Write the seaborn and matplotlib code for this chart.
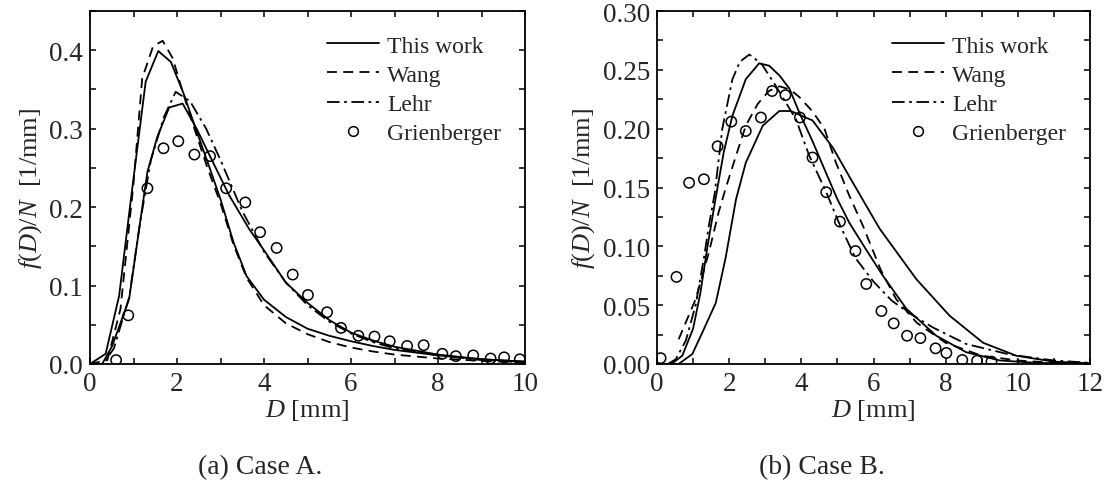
import numpy as np
import pandas as pd
import matplotlib
matplotlib.use("Agg")
import matplotlib.pyplot as plt
from matplotlib.lines import Line2D
import seaborn as sns

# ---------------- data: Case A ----------------
A_tw1_D = [0.0, 0.36, 0.67, 0.94, 1.28, 1.57, 1.86, 2.15, 2.43, 2.75, 3.0, 3.3, 3.6, 4.0, 4.5, 5.0, 5.5, 6.0, 6.5, 7.0, 8.0, 9.0, 10.0]
A_tw1 = [0.0, 0.013, 0.087, 0.21, 0.36, 0.399, 0.385, 0.345, 0.30, 0.25, 0.21, 0.155, 0.112, 0.082, 0.060, 0.045, 0.036, 0.029, 0.023, 0.018, 0.011, 0.006, 0.003]

A_tw2_D = [0.0, 0.28, 0.51, 0.9, 1.13, 1.32, 1.55, 1.82, 2.13, 2.45, 2.82, 3.2, 3.66, 4.0, 4.5, 5.0, 5.5, 6.0, 6.5, 7.0, 8.0, 9.0, 10.0]
A_tw2 = [0.0, 0.0, 0.023, 0.083, 0.172, 0.245, 0.29, 0.327, 0.332, 0.30, 0.258, 0.215, 0.172, 0.145, 0.104, 0.078, 0.056, 0.040, 0.030, 0.022, 0.012, 0.006, 0.003]

A_wang_D = [0.0, 0.4, 0.7, 1.0, 1.2, 1.45, 1.67, 1.9, 2.13, 2.4, 2.7, 3.0, 3.3, 3.6, 4.0, 4.5, 5.0, 5.5, 6.0, 6.5, 7.0, 8.0, 9.0, 10.0]
A_wang = [0.0, 0.005, 0.07, 0.23, 0.364, 0.405, 0.412, 0.39, 0.347, 0.30, 0.25, 0.205, 0.152, 0.11, 0.075, 0.052, 0.038, 0.028, 0.021, 0.016, 0.012, 0.007, 0.004, 0.002]

A_lehr_D = [0.0, 0.3, 0.55, 0.9, 1.15, 1.4, 1.7, 1.97, 2.3, 2.67, 3.0, 3.5, 4.0, 4.5, 5.0, 5.5, 6.0, 6.5, 7.0, 8.0, 9.0, 10.0]
A_lehr = [0.0, 0.0, 0.02, 0.085, 0.18, 0.26, 0.315, 0.347, 0.335, 0.30, 0.26, 0.195, 0.143, 0.104, 0.075, 0.054, 0.039, 0.028, 0.020, 0.011, 0.005, 0.002]

A_exp_D = [0.6, 0.88, 1.32, 1.69, 2.03, 2.40, 2.76, 3.13, 3.57, 3.91, 4.29, 4.66, 5.01, 5.45, 5.77, 6.17, 6.54, 6.89, 7.29, 7.67, 8.10, 8.41, 8.81, 9.21, 9.52, 9.88]
A_exp = [0.005, 0.062, 0.224, 0.275, 0.284, 0.267, 0.265, 0.224, 0.206, 0.168, 0.148, 0.114, 0.088, 0.066, 0.046, 0.036, 0.035, 0.029, 0.023, 0.024, 0.013, 0.010, 0.011, 0.007, 0.0085, 0.006]

# ---------------- data: Case B ----------------
B_tw1_D = [0.0, 0.4, 0.7, 1.0, 1.2, 1.4, 1.62, 1.85, 2.09, 2.46, 2.83, 3.11, 3.4, 3.67, 3.94, 4.3, 4.69, 5.0, 5.33, 5.8, 6.26, 6.91, 7.74, 8.57, 9.5, 10.5, 12.0]
B_tw1 = [0.0, 0.0, 0.007, 0.03, 0.06, 0.10, 0.14, 0.18, 0.211, 0.242, 0.2555, 0.2535, 0.245, 0.234, 0.214, 0.19, 0.162, 0.14, 0.12, 0.097, 0.075, 0.047, 0.024, 0.010, 0.003, 0.001, 0.0]

B_tw2_D = [0.0, 0.6, 0.98, 1.26, 1.63, 1.9, 2.19, 2.46, 2.93, 3.39, 3.71, 4.04, 4.31, 4.87, 5.43, 6.17, 7.19, 8.11, 9.04, 9.96, 11.0, 12.0]
B_tw2 = [0.0, 0.0, 0.0085, 0.027, 0.052, 0.09, 0.14, 0.171, 0.2025, 0.215, 0.215, 0.2105, 0.207, 0.184, 0.154, 0.115, 0.072, 0.041, 0.018, 0.007, 0.002, 0.0005]

B_wang_D = [0.6, 1.07, 1.44, 1.7, 1.91, 2.19, 2.46, 2.79, 3.1, 3.4, 3.7, 3.94, 4.3, 4.64, 4.96, 5.33, 5.7, 6.2, 6.63, 7.2, 8.0, 9.0, 10.0, 11.0, 12.0]
B_wang = [0.021, 0.055, 0.095, 0.128, 0.15, 0.177, 0.2025, 0.221, 0.232, 0.236, 0.233, 0.227, 0.215, 0.20, 0.171, 0.143, 0.118, 0.08, 0.055, 0.035, 0.018, 0.007, 0.003, 0.001, 0.0005]

B_lehr_D = [0.3, 0.52, 0.8, 1.07, 1.3, 1.44, 1.6, 1.81, 2.09, 2.3, 2.56, 2.9, 3.3, 3.85, 4.22, 4.69, 5.07, 5.5, 6.0, 6.5, 7.0, 7.65, 8.57, 9.78, 11.0, 12.0]
B_lehr = [0.0, 0.004, 0.02, 0.05, 0.09, 0.118, 0.145, 0.20, 0.242, 0.257, 0.263, 0.255, 0.236, 0.208, 0.177, 0.146, 0.118, 0.09, 0.07, 0.054, 0.043, 0.031, 0.017, 0.008, 0.003, 0.001]

B_exp_D = [0.10, 0.54, 0.89, 1.30, 1.68, 2.06, 2.46, 2.88, 3.19, 3.56, 3.96, 4.31, 4.69, 5.07, 5.50, 5.80, 6.22, 6.56, 6.93, 7.30, 7.72, 8.02, 8.46, 8.87, 9.27]
B_exp = [0.005, 0.074, 0.154, 0.157, 0.185, 0.206, 0.198, 0.2095, 0.232, 0.2285, 0.2095, 0.1755, 0.146, 0.121, 0.096, 0.068, 0.045, 0.0345, 0.024, 0.022, 0.0133, 0.0094, 0.0034, 0.0028, 0.002]

legend_labels = ["This work", "Wang", "Lehr", "Grienberger"]
x_ticks_A = [0, 2, 4, 6, 8, 10]
y_ticks_A = [0.0, 0.1, 0.2, 0.3, 0.4]
x_ticks_B = [0, 2, 4, 6, 8, 10, 12]
y_ticks_B = [0.00, 0.05, 0.10, 0.15, 0.20, 0.25, 0.30]
captions = ["(a) Case A.", "(b) Case B."]

# ---------------- style ----------------
sns.set_theme(style="ticks")
plt.rcParams["font.family"] = ["Liberation Serif", "DejaVu Serif"]
plt.rcParams["mathtext.fontset"] = "custom"
plt.rcParams["mathtext.rm"] = "Liberation Serif"
plt.rcParams["mathtext.it"] = "Liberation Serif:italic"

FS_LEG = 17
FS_TICK = 19.5
FS_LAB = 19
LW = 1.3
DASH = (0, (5.5, 3.5))
DASHDOT = (0, (7, 2.5, 1.5, 2.5))

fig = plt.figure(figsize=(11.13, 4.89), dpi=100)
W, H = 1113.0, 489.0
axA = fig.add_axes([90 / W, (H - 365) / H, 435 / W, 353 / H])
axB = fig.add_axes([657 / W, (H - 365) / H, 433 / W, 353 / H])


def draw(ax, curves, expD, expV, xlim, ylim, xt, yt, xminor, yminor, yfmt):
    for (d, v, ls) in curves:
        df = pd.DataFrame({"D": d, "f": v})
        sns.lineplot(data=df, x="D", y="f", ax=ax, color="black", lw=LW,
                     linestyle=ls, sort=False, estimator=None, legend=False)
    dfe = pd.DataFrame({"D": expD, "f": expV})
    sns.scatterplot(data=dfe, x="D", y="f", ax=ax, marker="o", s=55,
                    facecolor="none", edgecolor="black", linewidth=1.1,
                    legend=False, zorder=5)
    ax.set_xlim(*xlim)
    ax.set_ylim(*ylim)
    ax.set_xticks(xt)
    ax.set_yticks(yt)
    ax.set_xticks(xminor, minor=True)
    ax.set_yticks(yminor, minor=True)
    ax.set_yticklabels([yfmt.format(t) for t in yt])
    ax.set_xticklabels([str(t) for t in xt])
    ax.tick_params(which="both", direction="in", top=True, right=True,
                   length=4, width=1.1, labelsize=FS_TICK, pad=5, color="black")
    for s in ax.spines.values():
        s.set_linewidth(1.3)
        s.set_color("black")
    ax.set_xlabel(r"$D$ [mm]", fontsize=FS_LAB, labelpad=1)
    ax.set_ylabel(r"$f(D)/N$  [1/mm]", fontsize=FS_LAB, labelpad=4)
    handles = [Line2D([], [], color="black", lw=LW, linestyle="-"),
               Line2D([], [], color="black", lw=LW, linestyle=DASH),
               Line2D([], [], color="black", lw=LW, linestyle=DASHDOT),
               Line2D([], [], color="black", lw=0, marker="o", markersize=7,
                      markerfacecolor="none", markeredgewidth=1.1)]
    ax.legend(handles, legend_labels, loc="upper right", frameon=False,
              fontsize=FS_LEG, handlelength=2.2, handletextpad=0.35,
              labelspacing=0.32, borderaxespad=0.62, numpoints=1)


draw(axA,
     [(A_tw1_D, A_tw1, "-"), (A_tw2_D, A_tw2, "-"),
      (A_wang_D, A_wang, DASH), (A_lehr_D, A_lehr, DASHDOT)],
     A_exp_D, A_exp, (0, 10), (0, 0.45), x_ticks_A, y_ticks_A,
     [1, 3, 5, 7, 9], [0.05, 0.15, 0.25, 0.35, 0.45], "{:.1f}")

draw(axB,
     [(B_tw1_D, B_tw1, "-"), (B_tw2_D, B_tw2, "-"),
      (B_wang_D, B_wang, DASH), (B_lehr_D, B_lehr, DASHDOT)],
     B_exp_D, B_exp, (0, 12), (0, 0.30), x_ticks_B, y_ticks_B,
     [1, 3, 5, 7, 9, 11], [0.025, 0.075, 0.125, 0.175, 0.225, 0.275], "{:.2f}")

fig.text(260 / W, 1 - 468 / H, captions[0], ha="center", va="center", fontsize=20)
fig.text(822 / W, 1 - 468 / H, captions[1], ha="center", va="center", fontsize=20)

fig.savefig("out.png", dpi=100, facecolor="white")
